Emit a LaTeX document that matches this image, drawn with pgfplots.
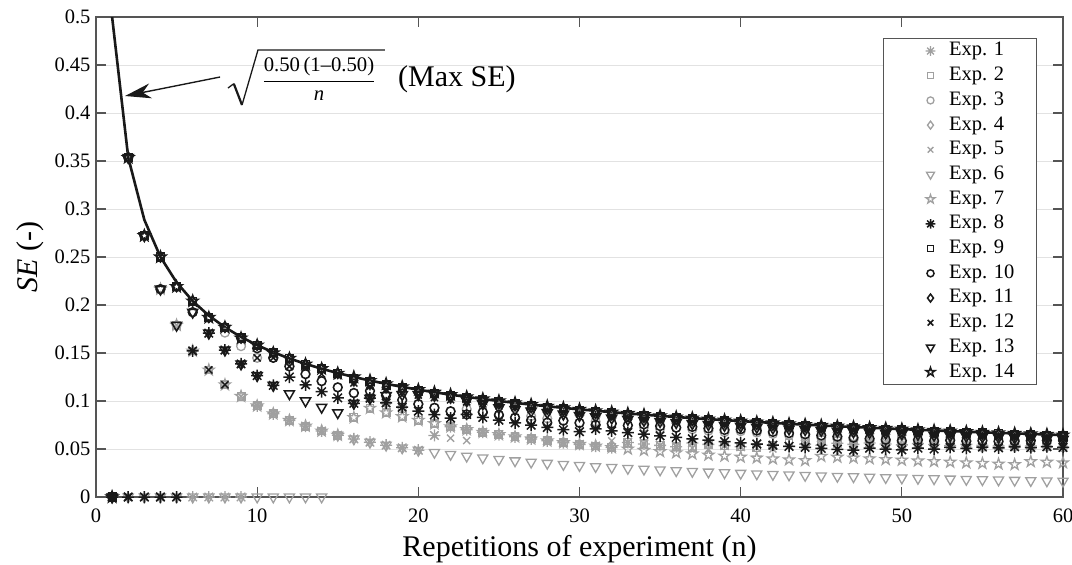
\documentclass[border=0pt]{standalone}
\usepackage{fontspec}
\setmainfont{Liberation Serif}
\usepackage{pgfplots}
\pgfplotsset{compat=1.18}
\usepackage{pgfplotstable}
\usetikzlibrary{arrows.meta}
\definecolor{lg}{RGB}{160,160,160}
\definecolor{dk}{RGB}{25,25,25}
\definecolor{gridc}{RGB}{226,226,226}
\definecolor{axc}{RGB}{85,85,85}
\pgfdeclareplotmark{ast8}{%
 \pgfpathmoveto{\pgfqpoint{0pt}{\pgfplotmarksize}}\pgfpathlineto{\pgfqpoint{0pt}{-\pgfplotmarksize}}%
 \pgfpathmoveto{\pgfqpoint{\pgfplotmarksize}{0pt}}\pgfpathlineto{\pgfqpoint{-\pgfplotmarksize}{0pt}}%
 \pgfpathmoveto{\pgfqpoint{0.707\pgfplotmarksize}{0.707\pgfplotmarksize}}\pgfpathlineto{\pgfqpoint{-0.707\pgfplotmarksize}{-0.707\pgfplotmarksize}}%
 \pgfpathmoveto{\pgfqpoint{-0.707\pgfplotmarksize}{0.707\pgfplotmarksize}}\pgfpathlineto{\pgfqpoint{0.707\pgfplotmarksize}{-0.707\pgfplotmarksize}}%
 \pgfusepathqstroke}
\pgfdeclareplotmark{pent}{%
 \pgfpathmoveto{\pgfpointpolar{90}{1.15\pgfplotmarksize}}%
 \pgfpathlineto{\pgfpointpolar{126}{0.45\pgfplotmarksize}}%
 \pgfpathlineto{\pgfpointpolar{162}{1.15\pgfplotmarksize}}%
 \pgfpathlineto{\pgfpointpolar{198}{0.45\pgfplotmarksize}}%
 \pgfpathlineto{\pgfpointpolar{234}{1.15\pgfplotmarksize}}%
 \pgfpathlineto{\pgfpointpolar{270}{0.45\pgfplotmarksize}}%
 \pgfpathlineto{\pgfpointpolar{306}{1.15\pgfplotmarksize}}%
 \pgfpathlineto{\pgfpointpolar{342}{0.45\pgfplotmarksize}}%
 \pgfpathlineto{\pgfpointpolar{18}{1.15\pgfplotmarksize}}%
 \pgfpathlineto{\pgfpointpolar{54}{0.45\pgfplotmarksize}}%
 \pgfpathclose\pgfusepathqstroke}
\pgfdeclareplotmark{tdown}{%
 \pgfpathmoveto{\pgfqpoint{-0.95\pgfplotmarksize}{0.55\pgfplotmarksize}}%
 \pgfpathlineto{\pgfqpoint{0.95\pgfplotmarksize}{0.55\pgfplotmarksize}}%
 \pgfpathlineto{\pgfqpoint{0pt}{-1.1\pgfplotmarksize}}%
 \pgfpathclose\pgfusepathqstroke}

\pgfplotstableread{
n M e1 e2 e3 e4 e5 e6 e7 e8 e9 e10 e11 e12 e13 e14
1 0.5 0 0 0 0 0 0 0 0 0 0 0 0 0 0
2 0.3536 0 0.3536 0.3536 0.3536 0 0 0.3536 0 0.3536 0.3536 0.3536 0 0.3536 0.3536
3 0.2887 0 0.2722 0.2722 0.2722 0 0 0.2722 0 0.2722 0.2722 0.2722 0 0.2722 0.2722
4 0.25 0 0.2165 0.2165 0.25 0 0 0.2165 0 0.25 0.2165 0.25 0 0.2165 0.25
5 0.2236 0 0.1789 0.1789 0.2191 0.1789 0 0.1789 0 0.2191 0.2191 0.2191 0 0.1789 0.2191
6 0.2041 0 0.1521 0.1925 0.1925 0.1521 0 0.1521 0.1521 0.2041 0.1925 0.2041 0.1521 0.1925 0.2041
7 0.1890 0 0.1323 0.1870 0.1870 0.1323 0 0.1323 0.1707 0.1870 0.1870 0.1870 0.1323 0.1707 0.1870
8 0.1768 0 0.1169 0.1712 0.1768 0.1169 0 0.1169 0.1531 0.1768 0.1768 0.1768 0.1169 0.1531 0.1768
9 0.1667 0 0.1048 0.1571 0.1656 0.1048 0 0.1048 0.1386 0.1656 0.1656 0.1656 0.1386 0.1386 0.1656
10 0.1581 0.0949 0.0949 0.1449 0.1581 0.0949 0 0.0949 0.1265 0.1581 0.1549 0.1581 0.1449 0.1265 0.1581
11 0.1508 0.0867 0.0867 0.1450 0.1501 0.0867 0 0.0867 0.1163 0.1501 0.1450 0.1501 0.1450 0.1163 0.1501
12 0.1443 0.0798 0.0798 0.1361 0.1443 0.0798 0 0.0798 0.1250 0.1443 0.1361 0.1443 0.1361 0.1076 0.1443
13 0.1387 0.0739 0.0739 0.1280 0.1383 0.0739 0 0.0739 0.1169 0.1383 0.1280 0.1383 0.1349 0.1001 0.1383
14 0.1336 0.0688 0.0688 0.1207 0.1336 0.0688 0 0.0688 0.1097 0.1336 0.1207 0.1336 0.1281 0.0935 0.1336
15 0.1291 0.0644 0.0644 0.1142 0.1288 0.0644 0.0644 0.0644 0.1033 0.1288 0.1142 0.1288 0.1265 0.0878 0.1288
16 0.1250 0.0605 0.0827 0.1083 0.1200 0.0605 0.0605 0.0827 0.0976 0.1238 0.1083 0.1213 0.1188 0.0976 0.1250
17 0.1213 0.0571 0.0925 0.1029 0.1164 0.0571 0.0571 0.0925 0.1029 0.1201 0.1105 0.1177 0.1152 0.1029 0.1213
18 0.1179 0.0540 0.0878 0.0980 0.1132 0.0540 0.0540 0.0878 0.0980 0.1167 0.1056 0.1144 0.1120 0.1056 0.1179
19 0.1147 0.0512 0.0837 0.0935 0.1101 0.0512 0.0512 0.0837 0.0935 0.1136 0.1010 0.1113 0.1090 0.1066 0.1147
20 0.1118 0.0487 0.0798 0.0968 0.1073 0.0487 0.0487 0.0798 0.0894 0.1107 0.0968 0.1084 0.1062 0.1067 0.1118
21 0.1091 0.0641 0.0764 0.0929 0.1047 0.0641 0.0465 0.0764 0.0857 0.1080 0.0929 0.1058 0.1036 0.1060 0.1091
22 0.1066 0.0732 0.0732 0.0893 0.1023 0.0613 0.0444 0.0732 0.0822 0.1055 0.0893 0.1034 0.1013 0.1048 0.1066
23 0.1043 0.0702 0.0702 0.0916 0.1001 0.0588 0.0425 0.0702 0.0860 0.1033 0.0860 0.1012 0.0991 0.1001 0.1043
24 0.1021 0.0675 0.0675 0.0884 0.0980 0.0675 0.0408 0.0675 0.0829 0.1011 0.0884 0.0990 0.0970 0.0970 0.1021
25 0.1000 0.0650 0.0650 0.0854 0.0960 0.0650 0.0392 0.0650 0.0800 0.0990 0.0854 0.0970 0.0950 0.0930 0.1000
26 0.0981 0.0627 0.0627 0.0826 0.0942 0.0627 0.0377 0.0627 0.0773 0.0971 0.0826 0.0952 0.0932 0.0912 0.0981
27 0.0962 0.0605 0.0605 0.0843 0.0924 0.0605 0.0363 0.0605 0.0748 0.0952 0.0800 0.0933 0.0914 0.0895 0.0962
28 0.0945 0.0585 0.0585 0.0818 0.0907 0.0585 0.0351 0.0585 0.0724 0.0936 0.0775 0.0917 0.0898 0.0879 0.0945
29 0.0928 0.0566 0.0566 0.0795 0.0891 0.0566 0.0339 0.0566 0.0701 0.0919 0.0795 0.0900 0.0882 0.0863 0.0928
30 0.0913 0.0548 0.0548 0.0772 0.0876 0.0548 0.0328 0.0548 0.0680 0.0904 0.0772 0.0886 0.0867 0.0849 0.0913
31 0.0898 0.0531 0.0531 0.0786 0.0862 0.0531 0.0317 0.0531 0.0710 0.0889 0.0751 0.0871 0.0853 0.0835 0.0898
32 0.0884 0.0515 0.0515 0.0765 0.0849 0.0585 0.0308 0.0515 0.0690 0.0875 0.0765 0.0857 0.0840 0.0822 0.0884
33 0.0870 0.0568 0.0568 0.0746 0.0835 0.0568 0.0298 0.0500 0.0671 0.0861 0.0746 0.0844 0.0827 0.0809 0.0870
34 0.0857 0.0553 0.0553 0.0727 0.0823 0.0553 0.0290 0.0486 0.0654 0.0848 0.0757 0.0831 0.0814 0.0797 0.0857
35 0.0845 0.0538 0.0538 0.0710 0.0811 0.0538 0.0282 0.0473 0.0637 0.0837 0.0739 0.0820 0.0803 0.0786 0.0845
36 0.0833 0.0524 0.0524 0.0722 0.0800 0.0524 0.0274 0.0461 0.0621 0.0825 0.0722 0.0808 0.0791 0.0775 0.0833
37 0.0822 0.0562 0.0510 0.0705 0.0789 0.0510 0.0267 0.0449 0.0606 0.0814 0.0730 0.0797 0.0781 0.0764 0.0822
38 0.0811 0.0548 0.0548 0.0690 0.0779 0.0498 0.0260 0.0437 0.0592 0.0803 0.0714 0.0787 0.0770 0.0754 0.0811
39 0.0801 0.0535 0.0535 0.0675 0.0769 0.0535 0.0253 0.0427 0.0578 0.0793 0.0699 0.0777 0.0761 0.0745 0.0801
40 0.0791 0.0523 0.0523 0.0685 0.0759 0.0523 0.0247 0.0416 0.0565 0.0783 0.0706 0.0767 0.0751 0.0736 0.0791
41 0.0781 0.0552 0.0511 0.0671 0.0750 0.0511 0.0241 0.0407 0.0552 0.0773 0.0692 0.0758 0.0742 0.0726 0.0781
42 0.0772 0.0540 0.0540 0.0657 0.0741 0.0500 0.0235 0.0397 0.0540 0.0764 0.0678 0.0749 0.0733 0.0718 0.0772
43 0.0762 0.0528 0.0563 0.0644 0.0732 0.0528 0.0230 0.0388 0.0528 0.0754 0.0665 0.0739 0.0724 0.0709 0.0762
44 0.0754 0.0551 0.0581 0.0632 0.0724 0.0551 0.0225 0.0380 0.0517 0.0746 0.0653 0.0731 0.0716 0.0701 0.0754
45 0.0745 0.0540 0.0596 0.0620 0.0715 0.0570 0.0220 0.0424 0.0507 0.0738 0.0641 0.0723 0.0708 0.0693 0.0745
46 0.0737 0.0559 0.0585 0.0608 0.0708 0.0559 0.0215 0.0415 0.0497 0.0730 0.0629 0.0715 0.0700 0.0685 0.0737
47 0.0729 0.0548 0.0597 0.0597 0.0700 0.0574 0.0211 0.0407 0.0487 0.0722 0.0618 0.0707 0.0693 0.0678 0.0729
48 0.0722 0.0563 0.0586 0.0586 0.0693 0.0586 0.0206 0.0399 0.0509 0.0715 0.0607 0.0700 0.0686 0.0671 0.0722
49 0.0714 0.0553 0.0596 0.0576 0.0685 0.0576 0.0202 0.0391 0.0500 0.0707 0.0596 0.0693 0.0678 0.0664 0.0714
50 0.0707 0.0543 0.0586 0.0566 0.0679 0.0586 0.0198 0.0384 0.0491 0.0700 0.0586 0.0686 0.0672 0.0658 0.0707
51 0.0700 0.0556 0.0594 0.0556 0.0672 0.0576 0.0194 0.0376 0.0509 0.0693 0.0594 0.0679 0.0665 0.0651 0.0700
52 0.0693 0.0547 0.0584 0.0547 0.0665 0.0584 0.0190 0.0370 0.0500 0.0686 0.0584 0.0672 0.0658 0.0644 0.0693
53 0.0687 0.0537 0.0591 0.0537 0.0660 0.0575 0.0187 0.0363 0.0516 0.0680 0.0591 0.0666 0.0653 0.0639 0.0687
54 0.0680 0.0548 0.0582 0.0529 0.0653 0.0582 0.0183 0.0356 0.0507 0.0673 0.0582 0.0660 0.0646 0.0632 0.0680
55 0.0674 0.0539 0.0587 0.0520 0.0647 0.0573 0.0180 0.0350 0.0520 0.0667 0.0587 0.0654 0.0640 0.0627 0.0674
56 0.0668 0.0531 0.0579 0.0531 0.0641 0.0579 0.0177 0.0344 0.0512 0.0661 0.0579 0.0648 0.0635 0.0621 0.0668
57 0.0662 0.0540 0.0583 0.0523 0.0636 0.0570 0.0174 0.0338 0.0523 0.0655 0.0583 0.0642 0.0629 0.0616 0.0662
58 0.0657 0.0532 0.0575 0.0515 0.0631 0.0575 0.0171 0.0369 0.0515 0.0650 0.0587 0.0637 0.0624 0.0611 0.0657
59 0.0651 0.0524 0.0579 0.0524 0.0625 0.0567 0.0168 0.0363 0.0524 0.0644 0.0590 0.0631 0.0618 0.0605 0.0651
60 0.0645 0.0516 0.0571 0.0516 0.0619 0.0571 0.0165 0.0357 0.0516 0.0639 0.0592 0.0626 0.0613 0.0600 0.0645
}\data

\begin{document}
\begin{tikzpicture}
\begin{axis}[
  scale only axis, width=967pt, height=480pt,
  xmin=0, xmax=60, ymin=0, ymax=0.5,
  xtick={0,10,20,30,40,50,60}, xticklabels={0,10,20,30,40,50,60},
  ytick={0,0.05,0.1,0.15,0.2,0.25,0.3,0.35,0.4,0.45,0.5},
  yticklabels={0,0.05,0.1,0.15,0.2,0.25,0.3,0.35,0.4,0.45,0.5},
  ymajorgrids, grid style={gridc, line width=1pt},
  axis line style={axc, line width=1.2pt},
  tick style={axc, line width=1.2pt}, tick align=inside, major tick length=10pt,
  xtick pos=both, ytick pos=both,
  tick label style={font=\fontsize{20.5}{24}\selectfont},
  xticklabel style={yshift=-8pt},
  yticklabel style={xshift=-2pt},
  xlabel={Repetitions of experiment (n)},
  ylabel={\textit{SE} (-)},
  label style={font=\fontsize{30}{36}\selectfont},
  xlabel style={at={(axis description cs:0.5,-0.108)}, anchor=center},
  ylabel style={at={(axis description cs:-0.0683,0.5)}, anchor=center},
  legend style={at={(axis description cs:0.9731,0.9563)}, anchor=north east,
    draw=axc, line width=1pt, fill=white, inner xsep=22pt, inner ysep=3pt,
    font=\fontsize{20.5}{24.7}\selectfont, row sep=5.6pt,
    nodes={inner sep=0pt, text height=14.5pt, text depth=4.6pt}},
  legend cell align=left,
  legend image code/.code={\path (0pt,0pt) (43pt,0pt); \draw[#1, every mark/.append style={scale=0.8}] plot coordinates {(25pt,0pt)};},
]
\addplot[dk, line width=2.6pt, forget plot] table[x=n,y=M]{\data};
\addplot[only marks, color=lg, mark=ast8, mark size=6pt, mark options={line width=1.3pt}] table[x=n,y=e1]{\data};
\addplot[only marks, color=lg, mark=square, mark size=3.8pt, mark options={line width=1.3pt}] table[x=n,y=e2]{\data};
\addplot[only marks, color=lg, mark=o, mark size=4.4pt, mark options={line width=1.3pt}] table[x=n,y=e3]{\data};
\addplot[only marks, color=lg, mark=diamond, mark size=5pt, mark options={line width=1.3pt}] table[x=n,y=e4]{\data};
\addplot[only marks, color=lg, mark=x, mark size=5pt, mark options={line width=1.3pt}] table[x=n,y=e5]{\data};
\addplot[only marks, color=lg, mark=tdown, mark size=5.3pt, mark options={line width=1.3pt}] table[x=n,y=e6]{\data};
\addplot[only marks, color=lg, mark=pent, mark size=5pt, mark options={line width=1.3pt}] table[x=n,y=e7]{\data};
\addplot[only marks, color=dk, mark=ast8, mark size=6pt, mark options={line width=1.5pt}] table[x=n,y=e8]{\data};
\addplot[only marks, color=dk, mark=square, mark size=3.8pt, mark options={line width=1.5pt}] table[x=n,y=e9]{\data};
\addplot[only marks, color=dk, mark=o, mark size=4.4pt, mark options={line width=1.5pt}] table[x=n,y=e10]{\data};
\addplot[only marks, color=dk, mark=diamond, mark size=5pt, mark options={line width=1.5pt}] table[x=n,y=e11]{\data};
\addplot[only marks, color=dk, mark=x, mark size=5pt, mark options={line width=1.5pt}] table[x=n,y=e12]{\data};
\addplot[only marks, color=dk, mark=tdown, mark size=5.3pt, mark options={line width=1.5pt}] table[x=n,y=e13]{\data};
\addplot[only marks, color=dk, mark=pent, mark size=5pt, mark options={line width=1.5pt}] table[x=n,y=e14]{\data};
\legend{Exp. 1,Exp. 2,Exp. 3,Exp. 4,Exp. 5,Exp. 6,Exp. 7,Exp. 8,Exp. 9,Exp. 10,Exp. 11,Exp. 12,Exp. 13,Exp. 14}
\draw[dk, line width=1.4pt, -{Stealth[length=26pt,width=15pt,inset=8pt]}] (axis cs:7.7,0.4375) -- (axis cs:1.8,0.4177);
\draw[dk, line width=1.3pt, line join=miter] (axis cs:8.19,0.4260) -- (axis cs:8.55,0.4305);
\draw[dk, line width=2.2pt] (axis cs:8.55,0.4305) -- (axis cs:9.06,0.4083);
\draw[dk, line width=1.3pt, line join=miter] (axis cs:9.06,0.4083) -- (axis cs:10.05,0.4656) -- (axis cs:17.93,0.4656);
\node[anchor=base, inner sep=0pt] at (axis cs:13.84,0.4281) {\fontsize{20.7}{24}\selectfont$\displaystyle\frac{\mbox{0.50\,(1--0.50)}}{\mbox{\itshape n}}$};
\node[anchor=base west, inner sep=0pt] at (axis cs:18.74,0.4271) {\fontsize{30}{36}\selectfont (Max SE)};
\end{axis}
\pgfresetboundingbox
\path (-96pt,-68pt) rectangle (976pt,497pt);
\end{tikzpicture}
\end{document}
